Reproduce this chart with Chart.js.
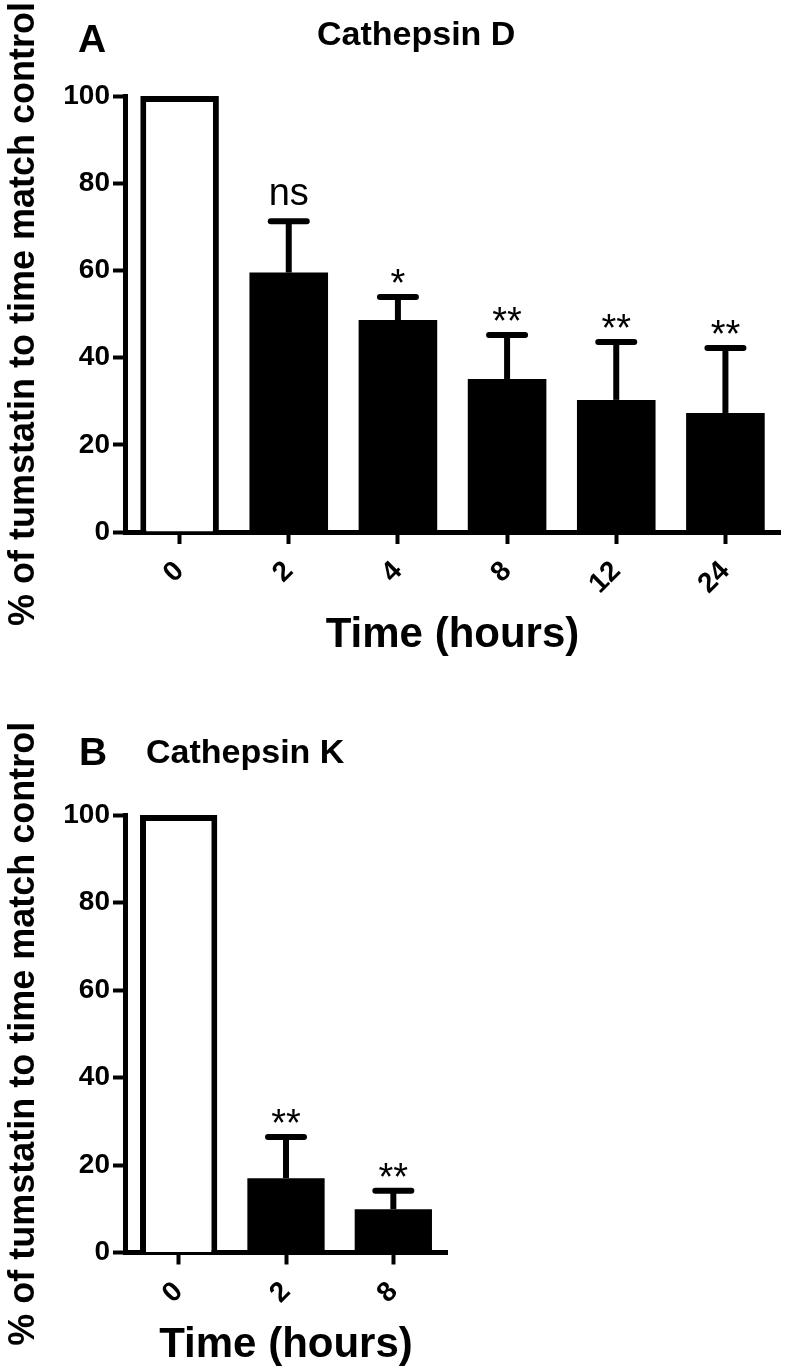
<!DOCTYPE html>
<html>
<head>
<meta charset="utf-8">
<title>Cathepsin D / Cathepsin K</title>
<script src="https://cdn.jsdelivr.net/npm/chart.js@4.4.1/dist/chart.umd.min.js"></script>
<style>
  body { margin: 0; background: #fff; }
  .panel { position: absolute; left: 0; width: 790px; }
  #panel-a { top: 0; height: 680px; }
  #panel-b { top: 720px; height: 650px; }
</style>
</head>
<body>
<div class="panel" id="panel-a"><canvas id="chart-a"></canvas></div>
<div class="panel" id="panel-b"><canvas id="chart-b"></canvas></div>
<script>
// Panel A - Cathepsin D
const timesA = ['0', '2', '4', '8', '12', '24'];
const meansA = [100, 59.5, 48.6, 35.1, 30.3, 27.3];
const semA = [null, 11.8, 5.3, 10.1, 13.3, 14.9];
const marksA = ['', 'ns', '*', '**', '**', '**'];

// Panel B - Cathepsin K
const timesB = ['0', '2', '8'];
const meansB = [100, 17.0, 9.9];
const semB = [null, 9.4, 4.2];
const marksB = ['', '**', '**'];

const yTicks = [0, 20, 40, 60, 80, 100];

const FONT = '"Liberation Sans", Arial, Helvetica, sans-serif';

// Upper error bars plus the significance marks above them
function errorBarPlugin(sem, marks) {
    return {
        id: 'errorBars',
        afterDatasetsDraw(chart) {
            const ctx = chart.ctx;
            const meta = chart.getDatasetMeta(0);
            const yScale = chart.scales.y;
            const data = chart.data.datasets[0].data;
            ctx.save();
            ctx.strokeStyle = '#000';
            ctx.fillStyle = '#000';
            meta.data.forEach((bar, i) => {
                let capY = bar.y;
                if (sem[i] != null) {
                    capY = yScale.getPixelForValue(data[i] + sem[i]);
                    ctx.lineWidth = 6;
                    ctx.lineCap = 'butt';
                    ctx.beginPath();
                    ctx.moveTo(bar.x, bar.y);
                    ctx.lineTo(bar.x, capY);
                    ctx.stroke();
                    ctx.lineCap = 'round';
                    ctx.beginPath();
                    ctx.moveTo(bar.x - 18, capY);
                    ctx.lineTo(bar.x + 18, capY);
                    ctx.stroke();
                }
                const mark = marks[i];
                if (mark) {
                    ctx.font = '38px ' + FONT;
                    ctx.textAlign = 'center';
                    ctx.textBaseline = 'alphabetic';
                    const m = ctx.measureText(mark);
                    const gap = mark === 'ns' ? 16 : 14;
                    ctx.fillText(mark, bar.x, capY - gap - m.actualBoundingBoxDescent);
                }
            });
            ctx.restore();
        }
    };
}

// Panel letter and panel title
function headingPlugin(h) {
    return {
        id: 'heading',
        afterDraw(chart) {
            const ctx = chart.ctx;
            ctx.save();
            ctx.fillStyle = '#000';
            ctx.textAlign = 'left';
            ctx.textBaseline = 'alphabetic';
            ctx.font = 'bold 39px ' + FONT;
            ctx.fillText(h.letter, h.letterX, h.letterY);
            ctx.font = 'bold 34px ' + FONT;
            ctx.fillText(h.title, h.titleX, h.titleY);
            ctx.restore();
        }
    };
}

function makeChart(id, labels, means, sem, marks, box, heading) {
    return new Chart(document.getElementById(id), {
        type: 'bar',
        data: {
            labels: labels,
            datasets: [{
                data: means,
                // first bar is the open control bar, the rest are solid
                backgroundColor: means.map((v, i) => i === 0 ? '#fff' : '#000'),
                borderColor: '#000',
                borderWidth: means.map((v, i) => i === 0 ? 6 : 0),
                borderSkipped: 'start',
                barPercentage: 0.72,
                categoryPercentage: 1
            }]
        },
        options: {
            responsive: true,
            maintainAspectRatio: false,
            animation: false,
            layout: { padding: { top: box.top, right: box.right, bottom: 0, left: 0 } },
            plugins: { legend: { display: false }, tooltip: { enabled: false } },
            scales: {
                x: {
                    grid: { display: true, drawOnChartArea: false, offset: false, tickLength: 12, tickWidth: 4, tickColor: '#000' },
                    border: { display: true, color: '#000', width: 5 },
                    ticks: {
                        color: '#000',
                        font: { family: FONT, size: 28, weight: 'bold' },
                        minRotation: 45,
                        maxRotation: 45,
                        padding: 11
                    },
                    title: {
                        display: true,
                        text: 'Time (hours)',
                        color: '#000',
                        font: { family: FONT, size: 42, weight: 'bold', lineHeight: 1 },
                        padding: { top: 0, bottom: box.xTitlePad }
                    },
                    afterFit: scale => { scale.height = box.xHeight; }
                },
                y: {
                    min: 0,
                    max: 100,
                    afterBuildTicks: scale => { scale.ticks = yTicks.map(v => ({ value: v })); },
                    grid: { drawOnChartArea: false, tickLength: 12, tickWidth: 4, tickColor: '#000' },
                    border: { display: true, color: '#000', width: 5 },
                    ticks: { color: '#000', font: { family: FONT, size: 28, weight: 'bold' }, padding: 3 },
                    title: {
                        display: true,
                        text: '% of tumstatin to time match control',
                        color: '#000',
                        font: { family: FONT, size: 36, weight: 'bold', lineHeight: 1 },
                        padding: { top: 6, bottom: 0 }
                    },
                    afterFit: scale => { scale.width = 125; }
                }
            }
        },
        plugins: [errorBarPlugin(sem, marks), headingPlugin(heading)]
    });
}

makeChart('chart-a', timesA, meansA, semA, marksA,
    { top: 96, right: 10, xHeight: 148, xTitlePad: 23.6 },
    { letter: 'A', letterX: 78, letterY: 52, title: 'Cathepsin D', titleX: 317, titleY: 45 });

makeChart('chart-b', timesB, meansB, semB, marksB,
    { top: 95, right: 343, xHeight: 117.5, xTitlePad: 3.6 },
    { letter: 'B', letterX: 79, letterY: 45, title: 'Cathepsin K', titleX: 146, titleY: 43 });
</script>
</body>
</html>
